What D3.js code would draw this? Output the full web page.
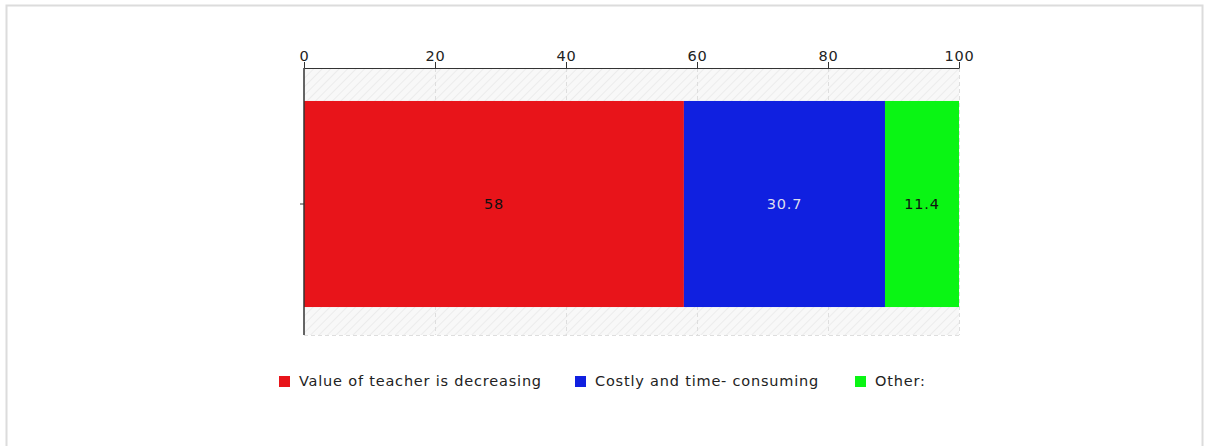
<!DOCTYPE html>
<html>
<head>
<meta charset="utf-8">
<script src="https://cdn.jsdelivr.net/npm/d3@7"></script>
<style>
  html, body { margin: 0; padding: 0; background: #fff; }
  svg { display: block; font-family: "DejaVu Sans", Verdana, sans-serif; }
</style>
</head>
<body>
<svg id="chart" width="1205" height="446"></svg>
<script>
// Response shares, one stacked horizontal bar
const categories = [""];
const seriesNames = ["Value of teacher is decreasing", "Costly and time- consuming", "Other:"];
const seriesValues = [58, 30.7, 11.4];
const seriesColors = ["#e8141a", "#1020e0", "#0af514"];
const labelColors = ["#111", "#dde", "#111"];
const tickValues = [0, 20, 40, 60, 80, 100];

const FONT = 14.5;
const SPACING = 0.8;

const svg = d3.select("#chart");

// outer frame
svg.append("rect")
  .attr("x", 6.5).attr("y", 5.5).attr("width", 1196).attr("height", 460)
  .attr("fill", "none").attr("stroke", "#dcdcdc").attr("stroke-width", 2);

const plot = { left: 304, right: 959, top: 68, bottom: 335 };

const x = d3.scaleLinear().domain([0, 100]).range([plot.left, plot.right]);
const y = d3.scaleBand().domain(categories).range([plot.top, plot.bottom + 5])
  .paddingInner(0).paddingOuter(0.16);

// hatched plot background
const defs = svg.append("defs");
const pat = defs.append("pattern")
  .attr("id", "hatch").attr("patternUnits", "userSpaceOnUse")
  .attr("width", 6).attr("height", 6)
  .attr("patternTransform", "rotate(45)");
pat.append("rect").attr("width", 6).attr("height", 6).attr("fill", "#f8f8f8");
pat.append("line").attr("x1", 0).attr("y1", 0).attr("x2", 0).attr("y2", 6)
  .attr("stroke", "#ececec").attr("stroke-width", 2);

svg.append("rect")
  .attr("x", plot.left).attr("y", plot.top)
  .attr("width", plot.right - plot.left).attr("height", plot.bottom - plot.top)
  .attr("fill", "url(#hatch)");

// dashed grid lines
svg.append("g").selectAll("line")
  .data(tickValues.slice(1))
  .join("line")
  .attr("x1", d => x(d) + 0.5).attr("x2", d => x(d) + 0.5)
  .attr("y1", plot.top).attr("y2", plot.bottom)
  .attr("stroke", "#dedede").attr("stroke-dasharray", "4,3");
svg.append("line")
  .attr("x1", plot.left).attr("x2", plot.right)
  .attr("y1", plot.bottom + 0.5).attr("y2", plot.bottom + 0.5)
  .attr("stroke", "#dedede").attr("stroke-dasharray", "4,3");

// stacked segments
let acc = 0;
const segs = seriesValues.map((v, i) => {
  const s = { i, v, x0: acc, x1: Math.min(100, acc + v) };
  acc += v;
  return s;
});

const cat = categories[0];
svg.append("g").selectAll("rect")
  .data(segs)
  .join("rect")
  .attr("x", d => x(d.x0))
  .attr("y", y(cat))
  .attr("width", d => x(d.x1) - x(d.x0))
  .attr("height", y.bandwidth())
  .attr("fill", d => seriesColors[d.i]);

svg.append("g").selectAll("text")
  .data(segs)
  .join("text")
  .attr("x", d => (x(d.x0) + x(d.x1)) / 2)
  .attr("y", y(cat) + y.bandwidth() / 2)
  .attr("dy", "0.35em")
  .attr("text-anchor", "middle")
  .attr("font-size", FONT)
  .attr("letter-spacing", SPACING)
  .attr("fill", d => labelColors[d.i])
  .text(d => d.v);

// top value axis
const xAxis = svg.append("g")
  .attr("transform", `translate(0,${plot.top})`)
  .call(d3.axisTop(x).tickValues(tickValues).tickSize(6).tickPadding(1).tickSizeOuter(0));
xAxis.select(".domain").attr("stroke", "#333");
xAxis.selectAll(".tick line").attr("stroke", "#333");
xAxis.selectAll(".tick text").attr("font-size", FONT).attr("fill", "#222")
  .attr("letter-spacing", SPACING)
  .attr("font-family", "DejaVu Sans, Verdana, sans-serif");

// left category axis: tick from the band scale, spine spans the plot area
const yAxis = svg.append("g")
  .attr("transform", `translate(${plot.left},0)`)
  .call(d3.axisLeft(y).tickSize(4).tickSizeOuter(0));
yAxis.select(".domain").remove();
yAxis.selectAll(".tick line").attr("stroke", "#333");
yAxis.append("line")
  .attr("x1", 0).attr("x2", 0)
  .attr("y1", plot.top).attr("y2", plot.bottom)
  .attr("stroke", "#333").attr("stroke-width", 1.5);

// legend
const legendX = [279, 575, 855];
const lg = svg.append("g").selectAll("g")
  .data(seriesNames)
  .join("g")
  .attr("transform", (d, i) => `translate(${legendX[i]},376)`);
lg.append("rect").attr("width", 11).attr("height", 11)
  .attr("fill", (d, i) => seriesColors[i]);
lg.append("text").attr("x", 20).attr("y", 5).attr("dy", "0.35em")
  .attr("font-size", FONT).attr("letter-spacing", SPACING).attr("fill", "#222")
  .text(d => d);
</script>
</body>
</html>
